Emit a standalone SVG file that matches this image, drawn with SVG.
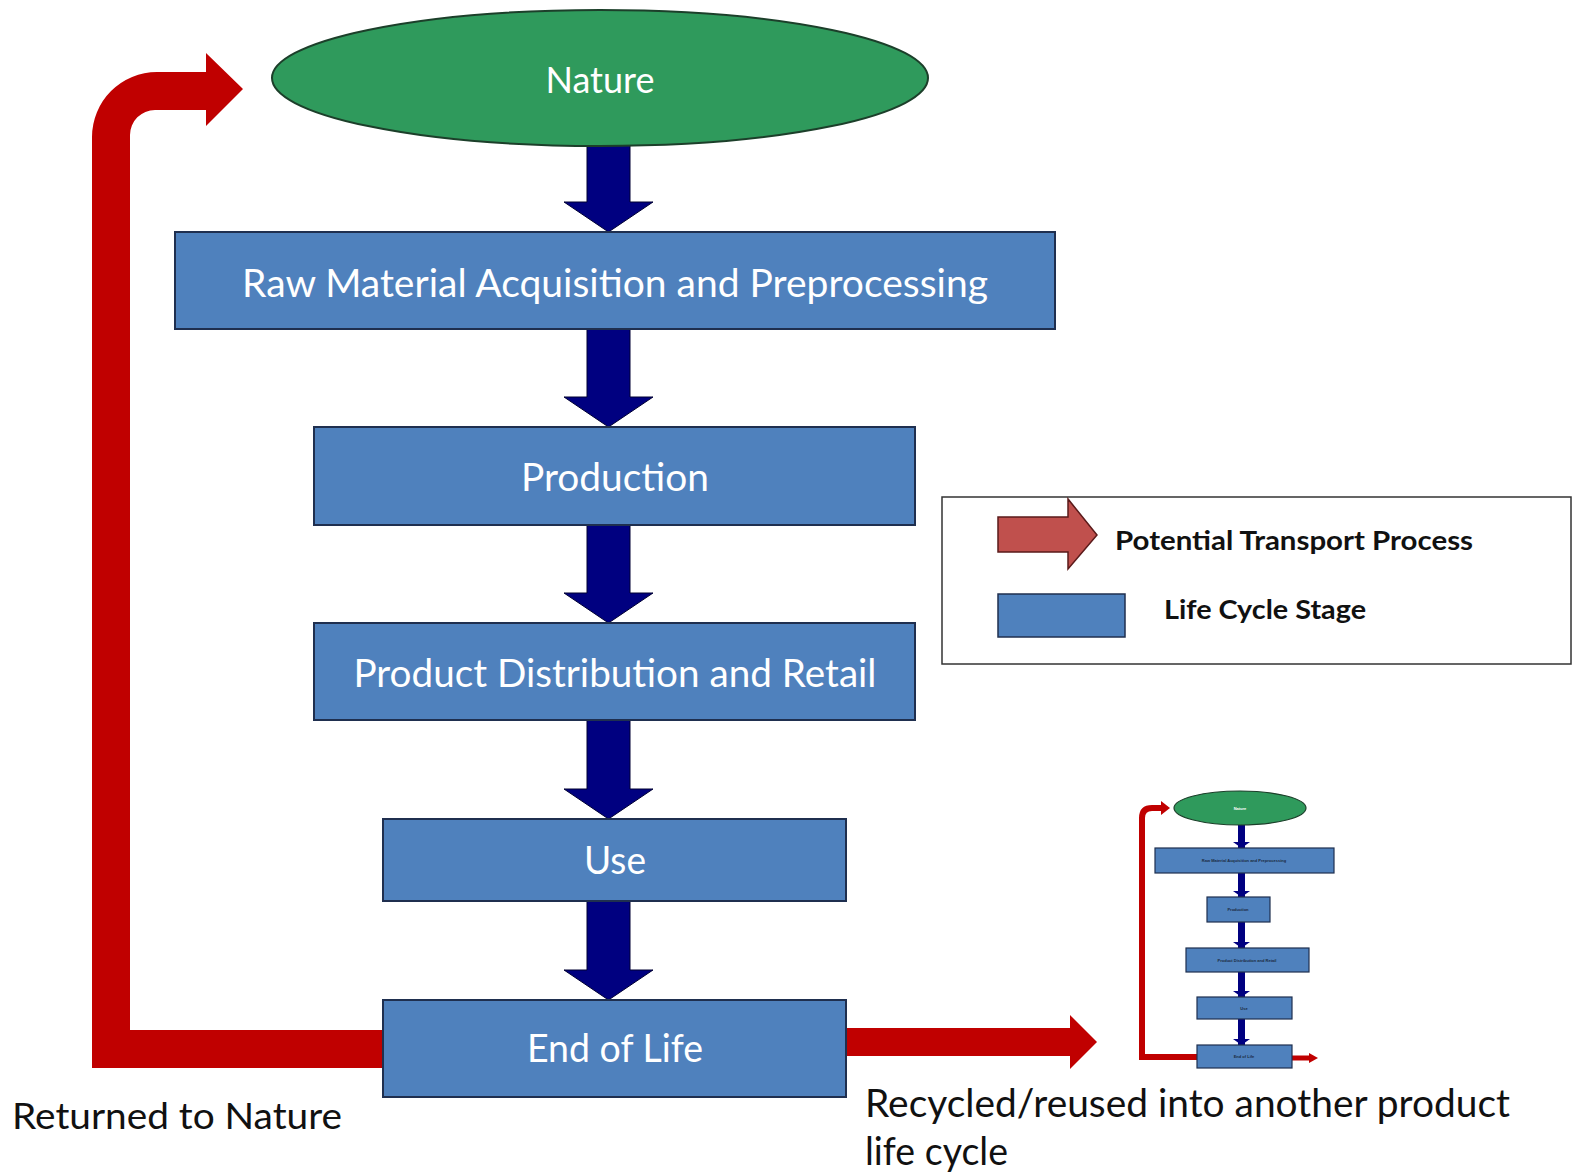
<svg xmlns="http://www.w3.org/2000/svg" width="1573" height="1175" viewBox="0 0 1573 1175">
<style>
.stage{fill:#4f81bd;stroke:#1f2f4f;stroke-width:2}
.lbl{font-family:Lato,"Liberation Sans",sans-serif;fill:#ffffff;text-anchor:middle}
.blk{font-family:Lato,"Liberation Sans",sans-serif;fill:#111111}
.down{fill:#000080;stroke:#000033;stroke-width:1}
.red{fill:#c00000}
.mini{fill:#4f81bd;stroke:#1f2f4f;stroke-width:1.2}
.mt{font-family:"Liberation Sans",sans-serif;font-size:4px;font-weight:bold;fill:#1a2a40;text-anchor:middle}
</style>
<rect width="1573" height="1175" fill="#ffffff"/>

<g id="connectors">
  <polygon class="down" points="587,144 630,144 630,202 653,202 608.5,232 564,202 587,202"/>
  <polygon class="down" points="587,329 630,329 630,397 653,397 608.5,427 564,397 587,397"/>
  <polygon class="down" points="587,525 630,525 630,593 653,593 608.5,623 564,593 587,593"/>
  <polygon class="down" points="587,720 630,720 630,789 653,789 608.5,819 564,789 587,789"/>
  <polygon class="down" points="587,901 630,901 630,970 653,970 608.5,1000 564,970 587,970"/>
  <path id="returned" class="red" d="M384,1030 L130,1030 L130,135 A25,25 0 0 1 155,110 L206,110 L206,126 L243,89 L206,53 L206,72 L157,72 A65,65 0 0 0 92,137 L92,1068 L384,1068 Z"/>
  <polygon id="recycled" class="red" points="846,1028 1070,1028 1070,1015 1097,1042 1070,1069 1070,1056 846,1056"/>
</g>

<g id="nature">
  <ellipse cx="600" cy="78" rx="328" ry="68" fill="#2f9a5c" stroke="#1c3f2a" stroke-width="2"/>
  <text class="lbl" x="600" y="93" font-size="36">Nature</text>
</g>
<g id="raw">
  <rect class="stage" x="175" y="232" width="880" height="97"/>
  <text class="lbl" x="615" y="297" font-size="38" textLength="746" lengthAdjust="spacingAndGlyphs">Raw Material Acquisition and Preprocessing</text>
</g>
<g id="production">
  <rect class="stage" x="314" y="427" width="601" height="98"/>
  <text class="lbl" x="615" y="491" font-size="38" textLength="188" lengthAdjust="spacingAndGlyphs">Production</text>
</g>
<g id="distribution">
  <rect class="stage" x="314" y="623" width="601" height="97"/>
  <text class="lbl" x="615" y="687" font-size="38" textLength="523" lengthAdjust="spacingAndGlyphs">Product Distribution and Retail</text>
</g>
<g id="use">
  <rect class="stage" x="383" y="819" width="463" height="82"/>
  <text class="lbl" x="615" y="874" font-size="38" textLength="62" lengthAdjust="spacingAndGlyphs">Use</text>
</g>
<g id="endoflife">
  <rect class="stage" x="383" y="1000" width="463" height="97"/>
  <text class="lbl" x="615" y="1062" font-size="38" textLength="176" lengthAdjust="spacingAndGlyphs">End of Life</text>
</g>

<g id="labels">
  <text class="blk" x="12" y="1129" font-size="37" textLength="330" lengthAdjust="spacingAndGlyphs">Returned to Nature</text>
  <text class="blk" x="865" y="1117" font-size="38" textLength="645" lengthAdjust="spacingAndGlyphs">Recycled/reused into another product</text>
  <text class="blk" x="865" y="1165" font-size="38" textLength="143" lengthAdjust="spacingAndGlyphs">life cycle</text>
</g>

<g id="legend">
  <rect x="942" y="497" width="629" height="167" fill="#ffffff" stroke="#333333" stroke-width="1.5"/>
  <polygon points="998,517 1068,517 1068,499 1097,535 1068,569 1068,552 998,552" fill="#c0504d" stroke="#5a1a1a" stroke-width="1.5"/>
  <text class="blk" x="1115" y="550" font-size="26" font-weight="bold" textLength="358" lengthAdjust="spacingAndGlyphs">Potential Transport Process</text>
  <rect x="998" y="594" width="127" height="43" fill="#4f81bd" stroke="#1f2f4f" stroke-width="1.5"/>
  <text class="blk" x="1164" y="619" font-size="26" font-weight="bold" textLength="202" lengthAdjust="spacingAndGlyphs">Life Cycle Stage</text>
</g>

<g id="mini-lifecycle">
  <path d="M1197,1057 L1142,1057 L1142,818 Q1142,808 1152,808 L1162,808" fill="none" stroke="#c00000" stroke-width="6"/>
  <polygon points="1161,801 1170,808 1161,815" fill="#c00000"/>
  <line x1="1292" y1="1058" x2="1310" y2="1058" stroke="#c00000" stroke-width="5"/>
  <polygon points="1309,1053 1318,1058 1309,1063" fill="#c00000"/>
  <g fill="#000080">
    <rect x="1238" y="825" width="7" height="23"/>
    <rect x="1238" y="873" width="7" height="24"/>
    <rect x="1238" y="922" width="7" height="26"/>
    <rect x="1238" y="972" width="7" height="25"/>
    <rect x="1238" y="1019" width="7" height="26"/>
    <polygon points="1233,842 1250,842 1241.5,848"/>
    <polygon points="1233,891 1250,891 1241.5,897"/>
    <polygon points="1233,942 1250,942 1241.5,948"/>
    <polygon points="1233,991 1250,991 1241.5,997"/>
    <polygon points="1233,1039 1250,1039 1241.5,1045"/>
  </g>
  <ellipse cx="1240" cy="808" rx="66" ry="17" fill="#2f9a5c" stroke="#1c3f2a" stroke-width="1.2"/>
  <text class="mt" x="1240" y="810" style="fill:#ffffff">Nature</text>
  <rect class="mini" x="1155" y="848" width="179" height="25"/>
  <text class="mt" x="1244" y="862">Raw Material Acquisition and Preprocessing</text>
  <rect class="mini" x="1207" y="897" width="63" height="25"/>
  <text class="mt" x="1238" y="911">Production</text>
  <rect class="mini" x="1186" y="948" width="123" height="24"/>
  <text class="mt" x="1247" y="962">Product Distribution and Retail</text>
  <rect class="mini" x="1197" y="997" width="95" height="22"/>
  <text class="mt" x="1244" y="1010">Use</text>
  <rect class="mini" x="1197" y="1045" width="95" height="23"/>
  <text class="mt" x="1244" y="1058">End of Life</text>
</g>
</svg>
